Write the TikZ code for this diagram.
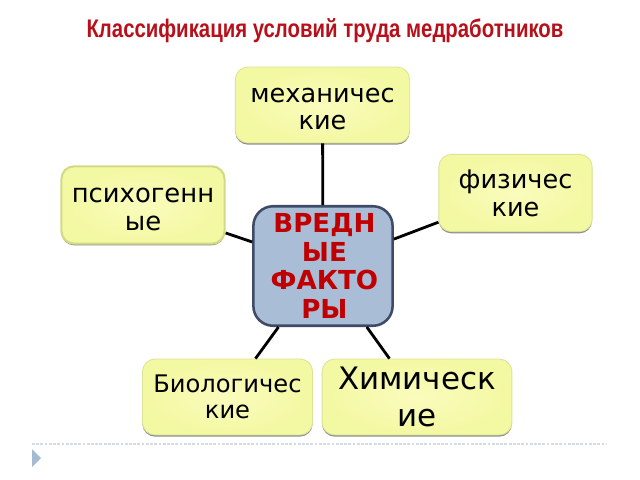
\documentclass[tikz,border=0pt]{standalone}
\usepackage{fontspec}
\setmainfont{DejaVu Sans}
\newfontfamily\titlefont[FakeStretch=0.8]{Liberation Sans}
\usetikzlibrary{shadows}
\definecolor{titlered}{HTML}{B8101A}
\definecolor{harmred}{HTML}{C00000}
\definecolor{boxedge}{HTML}{DDE394}
\definecolor{psyedge}{HTML}{D3DA86}
\definecolor{boxfill}{HTML}{F3F8A2}
\definecolor{boxinner}{HTML}{FAFCBC}
\definecolor{harmfill}{HTML}{A9BED6}
\definecolor{harmedge}{HTML}{3E4A66}
\definecolor{rulecol}{HTML}{D3DBE6}
\definecolor{markcol}{HTML}{A5BAD3}
\tikzset{
  box/.style={draw=boxedge, line width=0.6pt, rounded corners=9pt, inner color=boxinner, outer color=boxfill,
    align=center, inner sep=0pt, drop shadow={shadow xshift=0pt, shadow yshift=-1.2pt, fill=black!55, opacity=0.8}},
  link/.style={line width=2pt, black}
}
\begin{document}
\begin{tikzpicture}[x=0.025cm, y=-0.025cm]
  \useasboundingbox (0,0) rectangle (640,480);

  \node (title) at (325, 31) [font=\titlefont\bfseries\fontsize{18.1}{20}\selectfont, text=titlered] {Классификация условий труда медработников};

  \node (mech) at (322.5, 105) [box, minimum width=124pt, minimum height=54pt, font=\fontsize{18.2}{19.2}\selectfont] {\rule{0pt}{16.5pt}механичес\\кие};
  \node (phys) at (515.5, 193) [box, minimum width=109pt, minimum height=55pt, font=\fontsize{18.2}{19.8}\selectfont] {физичес\\кие};
  \node (psy) at (143, 205) [box, draw=psyedge, line width=1.5pt, minimum width=116pt, minimum height=55pt, font=\fontsize{18.4}{20}\selectfont] {\rule{0pt}{16.5pt}психогенн\\ые};
  \node (bio) at (227.5, 397) [box, minimum width=121pt, minimum height=54pt, font=\fontsize{17.2}{18.4}\selectfont] {Биологичес\\кие};
  \node (chem) at (417, 397) [box, minimum width=135pt, minimum height=54pt, font=\fontsize{22}{26.9}\selectfont] {Химическ\\ие};

  \node (harm) at (323, 266) [draw=harmedge, line width=1.8pt, fill=harmfill, rounded corners=14pt, minimum width=99pt, minimum height=85pt, inner sep=0pt, align=center, text=harmred, font=\bfseries\fontsize{18.6}{20.5}\selectfont] {\hspace{2pt}ВРЕДН\\\hspace{2pt}ЫЕ\\\hspace{2pt}ФАКТО\\\hspace{2pt}РЫ};

  % links
  \draw [link] (harm) -- (mech);
  \draw [link] (harm) -- (phys);
  \draw [link] (harm) -- (psy);
  \draw [link] (harm) -- (bio);
  \draw [link] (harm) -- (chem);

  % footer
  \draw [rulecol, line width=0.8pt, dash pattern=on 2pt off 1pt] (32, 444) -- (607, 444);
  \fill [markcol] (32, 449) -- (41, 458) -- (32, 467) -- cycle;
\end{tikzpicture}
\end{document}
